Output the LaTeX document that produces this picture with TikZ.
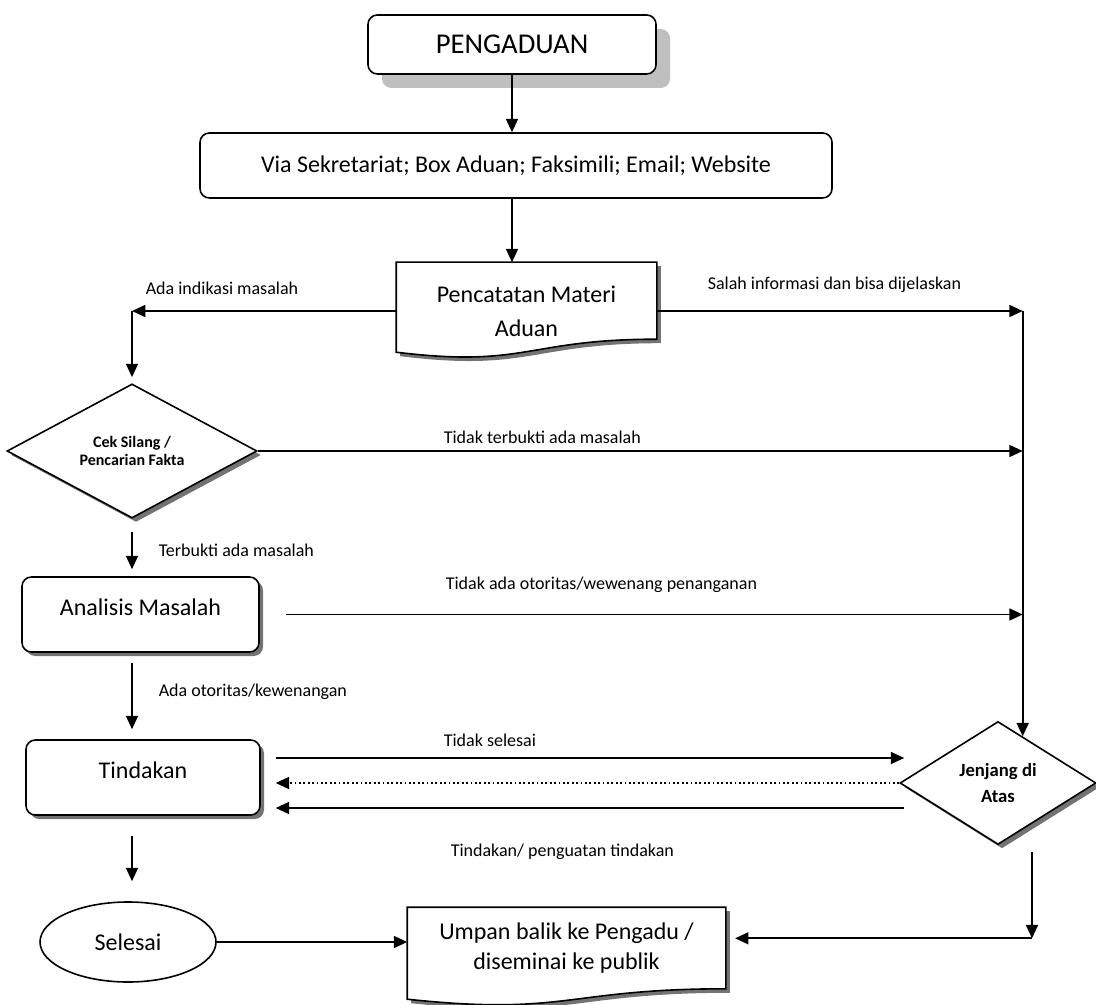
\documentclass[tikz,border=0pt]{standalone}
\usepackage{fontspec}
\setmainfont{Carlito}
\usetikzlibrary{shapes.geometric,arrows.meta,calc,shadows}
\begin{document}
\begin{tikzpicture}[x=0.75pt,y=-0.75pt,
  line width=1.2pt,
  arr/.style={-{Triangle[length=10pt,width=9pt]}, line width=1.3pt},
  shd/.style={drop shadow={shadow xshift=3pt,shadow yshift=-3pt,fill=black!55,opacity=1}},
  rbox/.style={draw, rounded corners=7pt, fill=white, align=center, font=\fontsize{18}{22}\selectfont, inner sep=0pt},
  dia/.style={draw, diamond, fill=white, align=center, inner sep=0pt},
  lbl/.style={font=\fontsize{13.5}{16}\selectfont, anchor=west, inner sep=0pt},
  txt/.style={draw=none, align=center, inner sep=0pt}
]
\fill[white] (0,0) rectangle (1096,1005);
\useasboundingbox (0,0) rectangle (1096,1005);

% PENGADUAN
\node[rbox, font=\fontsize{21.5}{26}\selectfont, minimum width=216pt, minimum height=44.25pt,
  drop shadow={shadow xshift=10.5pt,shadow yshift=-10.5pt,fill=black!25,opacity=1}] (peng) at (512,44.5) {PENGADUAN};

% Via
\node[rbox, minimum width=474pt, minimum height=48.75pt] (via) at (516,165.5)
  {Via Sekretariat; Box Aduan; Faksimili; Email; Website};

% Pencatatan (document)
\node[txt, minimum width=194.25pt, minimum height=72pt, font=\fontsize{18}{25.5}\selectfont] (pm) at (526.5,311) {};
\draw[fill=white, shd] (pm.north west) -- (pm.north east) -- ($(pm.north east)+(0,77)$)
  .. controls ($(pm.north)+(0,77)$) and ($(pm.north)+(0,106)$) .. ($(pm.north west)+(0,90)$) -- cycle;
\node[txt, font=\fontsize{18}{25.5}\selectfont] at (pm.center) {Pencatatan Materi\\Aduan};

% Cek silang
\node[dia, shd, minimum width=187.5pt, minimum height=92.25pt, font=\fontsize{12}{13.5}\selectfont\bfseries] (cek) at (132,451)
  {Cek Silang /\\Pencarian Fakta};

% Analisis
\node[rbox, shd, minimum width=177.75pt, minimum height=56.25pt, text depth=11pt] (ana) at (140.5,614.5) {Analisis Masalah};

% Tindakan
\node[rbox, shd, minimum width=175.5pt, minimum height=56.25pt, text depth=11pt] (tin) at (143,777.5) {Tindakan};

% Jenjang di Atas
\node[dia, shd, minimum width=147pt, minimum height=92.25pt, font=\fontsize{14}{20}\selectfont\bfseries] (jen) at (998,783)
  {Jenjang di\\Atas};

% Selesai
\node[draw, ellipse, fill=white, minimum width=132pt, minimum height=60pt, inner sep=0pt,
  font=\fontsize{18}{22}\selectfont] (sel) at (128,942) {Selesai};

% Umpan balik (document)
\node[txt, minimum width=237.75pt, minimum height=60pt] (ump) at (566.5,948) {};
\draw[fill=white, shd] (ump.north west) -- (ump.north east) -- (ump.south east)
  .. controls (ump.south) and ($(ump.north)+(0,109)$) .. ($(ump.north west)+(0,92)$) -- cycle;
\node[txt, font=\fontsize{18}{22.5}\selectfont] at (ump.center) {Umpan balik ke Pengadu /\\diseminai ke publik};

% helper coordinates
\coordinate (jin) at ($(jen.north)!0.25!(jen.east)$);
\coordinate (r1) at (jin |- pm.east);
\coordinate (a1) at (cek.north |- pm.west);
\coordinate (t1) at ($(tin.east)+(15,-19.5)$);
\coordinate (t2) at ($(tin.east)+(15,30.5)$);
\coordinate (j1) at ($(jen.south)+(34,7)$);
\coordinate (j2) at ($(j1)+(0,86)$);

% connectors
\draw[arr] (peng.south) -- (peng.south |- via.north);
\draw[arr] (via.south -| peng.south) -- (peng.south |- pm.north);
\draw[arr] (pm.west) -- (a1);
\draw[arr] (a1) -- ($(cek.north)+(0,-6)$);
\draw[arr] (pm.east) -- (r1);
\draw[arr] (r1) -- (jin);
\draw[arr] (cek.east) -- (jin |- cek.east);
\draw[arr] ($(cek.south)+(0,13)$) -- ($(cek.south |- ana.north)+(0,-7)$);
\draw[arr] ($(ana.east)+(26,0)$) -- (jin |- ana.east);
\draw[arr] ($(cek.south |- ana.south)+(0,10)$) -- ($(cek.south |- tin.north)+(0,-10)$);
\draw[arr] (t1) -- ($(t1 -| jen.west)+(5,0)$);
\draw[arr, dotted] (jen.west) -- (jen.west -| t1);
\draw[arr] ($(t2 -| jen.west)+(5,0)$) -- (t2);
\draw[arr] ($(cek.south |- tin.south)+(0,20)$) -- ($(cek.south |- sel.north)+(0,-20)$);
\draw[arr] (sel.east) -- (sel.east -| ump.west);
\draw[arr] (j1) -- (j2);
\draw[arr, shorten >=7pt] (j2) -- (j2 -| ump.east);

% labels
\node[lbl] (l1) at (145,288) {Ada indikasi masalah};
\node[lbl] (l2) at (707,285) {Salah informasi dan bisa dijelaskan};
\node[lbl] (l3) at (443,437) {Tidak terbukti ada masalah};
\node[lbl] (l4) at (158,550) {Terbukti ada masalah};
\node[lbl] (l5) at (445,585) {Tidak ada otoritas/wewenang penanganan};
\node[lbl] (l6) at (158,692) {Ada otoritas/kewenangan};
\node[lbl] (l7) at (443,740) {Tidak selesai};
\node[lbl] (l8) at (450,852) {Tindakan/ penguatan tindakan};
\end{tikzpicture}
\end{document}
